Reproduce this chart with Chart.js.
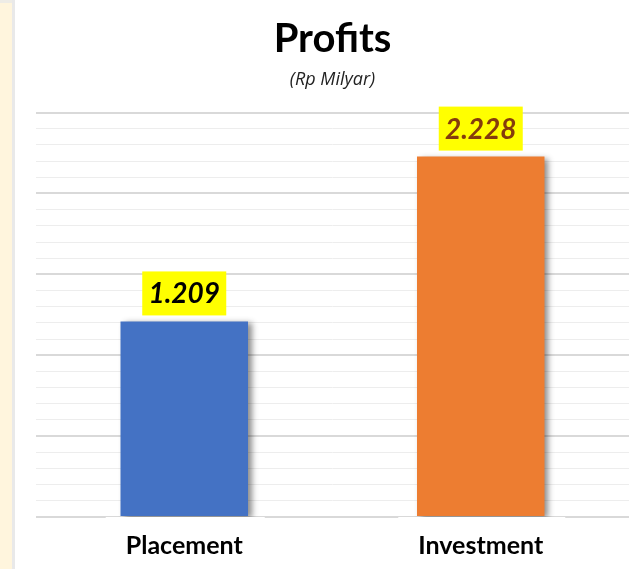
<!DOCTYPE html>
<html>
<head>
<meta charset="utf-8" />
<title>Profits</title>
<script src="https://cdn.jsdelivr.net/npm/chart.js@4.4.1/dist/chart.umd.min.js"></script>
<style>
  html, body { margin: 0; padding: 0; }
  body { width: 636px; height: 569px; background: #fff5dd; position: relative; overflow: hidden; }
  #topbar { position: absolute; left: 0; top: 0; width: 636px; height: 3px; background: #eeece6; }
  #panel {
    position: absolute; left: 12px; top: 0; width: 624px; height: 569px;
    background: #fff; border-left: 3px solid #e9e9e9; box-sizing: border-box;
  }
  #gap { position: absolute; left: 178px; top: 0; width: 299px; height: 3px; background: #fff; }
  #wrap { position: absolute; left: 12px; top: 0; width: 624px; height: 569px; }
</style>
</head>
<body>
<div id="topbar"></div>
<div id="panel"></div>
<div id="gap"></div>
<div id="wrap"><canvas id="profitsChart" width="624" height="569"></canvas></div>
<script>
  const categories = ['Placement', 'Investment'];
  const profits = [1.209, 2.228];
  const valueLabels = ['1.209', '2.228'];
  const barColors = ['#4472c4', '#ed7d31'];
  const labelColors = ['#000000', '#843c0c'];

  // soft shadow on the right of each bar
  const barShadow = {
    id: 'barShadow',
    beforeDatasetsDraw(chart) {
      const ctx = chart.ctx;
      ctx.save();
      ctx.shadowColor = 'rgba(0,0,0,0.45)';
      ctx.shadowBlur = 6;
      ctx.shadowOffsetX = 4;
      ctx.shadowOffsetY = 2;
    },
    afterDatasetsDraw(chart) {
      chart.ctx.restore();
    }
  };

  // yellow highlighted value labels above the bars
  const valueBoxes = {
    id: 'valueBoxes',
    afterDatasetsDraw(chart) {
      const ctx = chart.ctx;
      const meta = chart.getDatasetMeta(0);
      ctx.save();
      ctx.font = 'italic bold 28px Lato';
      ctx.textAlign = 'center';
      ctx.textBaseline = 'middle';
      meta.data.forEach((bar, i) => {
        const w = 84, h = 44;
        const bottom = bar.y - 6;
        ctx.fillStyle = '#ffff00';
        ctx.fillRect(bar.x - w / 2, bottom - h, w, h);
        ctx.fillStyle = labelColors[i];
        ctx.fillText(valueLabels[i], bar.x, bottom - h / 2 + 1);
      });
      ctx.restore();
    }
  };

  const isMajor = v => Math.abs(v * 2 - Math.round(v * 2)) < 1e-6;

  new Chart(document.getElementById('profitsChart'), {
    type: 'bar',
    data: {
      labels: categories,
      datasets: [{
        data: profits,
        backgroundColor: barColors,
        borderWidth: 0,
        categoryPercentage: 1,
        barPercentage: 0.43
      }]
    },
    options: {
      responsive: false,
      maintainAspectRatio: false,
      animation: false,
      layout: { padding: { left: 24, right: 7, top: 0, bottom: -6 } },
      plugins: {
        legend: { display: false },
        tooltip: { enabled: false },
        title: {
          display: true,
          text: 'Profits',
          color: '#000',
          font: { family: 'Lato', size: 40, weight: 'bold' },
          padding: { top: 15, bottom: 0 }
        },
        subtitle: {
          display: true,
          text: '(Rp Milyar)',
          color: '#222',
          font: { family: 'Open Sans', size: 18, style: 'italic' },
          padding: { top: 6, bottom: 22 }
        }
      },
      scales: {
        x: {
          grid: { display: false, drawTicks: false },
          border: { display: false },
          ticks: {
            color: '#000',
            font: { family: 'Lato', size: 25, weight: 'bold' },
            padding: 14,
            showLabelBackdrop: true,
            backdropColor: '#ffffff',
            backdropPadding: { top: 16, left: 20, right: 22, bottom: 2 }
          }
        },
        y: {
          min: 0,
          max: 2.5,
          border: { display: false },
          grid: {
            drawTicks: false,
            color: c => isMajor(c.tick.value) ? '#d9d9d9' : '#ededed',
            lineWidth: c => isMajor(c.tick.value) ? 2 : 1
          },
          ticks: { display: false, stepSize: 0.1, maxTicksLimit: 40 }
        }
      }
    },
    plugins: [barShadow, valueBoxes]
  });
</script>
</body>
</html>
